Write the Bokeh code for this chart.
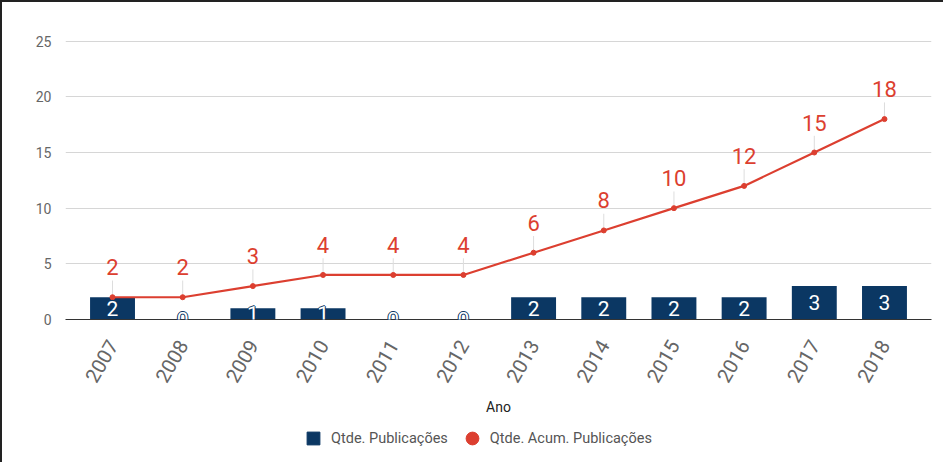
import math
from bokeh.plotting import figure
from bokeh.layouts import column
from bokeh.models import (ColumnDataSource, LabelSet, FixedTicker, Legend,
                          LegendItem, Range1d)
from bokeh.core.properties import value
from bokeh.embed import file_html
from bokeh.resources import INLINE

# ---- data ----
years = ["2007", "2008", "2009", "2010", "2011", "2012",
         "2013", "2014", "2015", "2016", "2017", "2018"]
pubs = [2, 0, 1, 1, 0, 0, 2, 2, 2, 2, 3, 3]
accum = [2, 2, 3, 4, 4, 4, 6, 8, 10, 12, 15, 18]
y_ticks = [0, 5, 10, 15, 20, 25]
series_names = ["Qtde. Publicações", "Qtde. Acum. Publicações"]

NAVY = "#0b3763"
RED = "#dc3f30"
FONT = "Roboto"

xs = list(range(len(years)))
src = ColumnDataSource(dict(
    x=xs,
    pubs=pubs,
    accum=accum,
    pubs_mid=[v / 2 for v in pubs],
    pubs_lbl=[str(v) for v in pubs],
    accum_lbl=[str(v) for v in accum],
    lead_top=[v + 1.5 for v in accum],
))

p = figure(frame_width=866, frame_height=280,
           x_range=Range1d(-0.67, len(years) - 1 + 0.67),
           y_range=Range1d(0, 25.15),
           output_backend="svg", toolbar_location=None,
           min_border_left=63, min_border_top=37, min_border_right=12,
           min_border_bottom=100,
           background_fill_color="white", border_fill_color="white",
           outline_line_color=None)

# grid
p.xgrid.grid_line_color = None
p.ygrid.grid_line_color = "#d6d6d6"
p.ygrid.grid_line_width = 1
p.ygrid.ticker = FixedTicker(ticks=y_ticks)

# y axis
p.yaxis.ticker = FixedTicker(ticks=y_ticks)
p.yaxis.axis_line_color = None
p.yaxis.major_tick_line_color = None
p.yaxis.minor_tick_line_color = None
p.yaxis.major_label_text_font = FONT
p.yaxis.major_label_text_font_size = "14px"
p.yaxis.major_label_text_color = "#666666"
p.yaxis.major_label_standoff = 8

# x axis
p.xaxis.ticker = FixedTicker(ticks=xs)
p.xaxis.major_label_overrides = {i: y for i, y in zip(xs, years)}
p.xaxis.major_label_orientation = math.pi / 3
p.xaxis.axis_line_color = "#333333"
p.xaxis.axis_line_width = 1
p.xaxis.major_tick_line_color = None
p.xaxis.minor_tick_line_color = None
p.xaxis.major_label_text_font = FONT
p.xaxis.major_label_text_font_size = "20px"
p.xaxis.major_label_text_color = "#666666"
p.xaxis.major_label_standoff = 16
p.xaxis.axis_label = "Ano"
p.xaxis.axis_label_text_font = FONT
p.xaxis.axis_label_text_font_size = "14px"
p.xaxis.axis_label_text_font_style = "normal"
p.xaxis.axis_label_text_color = "#222222"
p.xaxis.axis_label_standoff = 8

# bars
p.vbar(x="x", top="pubs", width=0.64, source=src,
       fill_color=NAVY, line_color=None)

# leader lines for accumulated labels
p.segment(x0="x", y0="accum", x1="x", y1="lead_top", source=src,
          line_color="#dddddd", line_width=1)

# line + points
p.line("x", "accum", source=src, line_color=RED, line_width=2.2)
p.scatter("x", "accum", source=src, size=5, fill_color=RED, line_color=RED)

# accumulated labels
p.add_layout(LabelSet(x="x", y="accum", text="accum_lbl", source=src,
                      y_offset=30, text_align="center", text_baseline="middle",
                      text_font=value(FONT), text_font_size="22px",
                      text_color=RED))

# bar labels with thin navy outline
for dx, dy in [(-1, 0), (1, 0), (0, -1), (0, 1)]:
    p.add_layout(LabelSet(x="x", y="pubs_mid", text="pubs_lbl", source=src,
                          x_offset=dx, y_offset=dy,
                          text_align="center", text_baseline="middle",
                          text_font=value(FONT), text_font_size="21px",
                          text_color=NAVY))
p.add_layout(LabelSet(x="x", y="pubs_mid", text="pubs_lbl", source=src,
                      text_align="center", text_baseline="middle",
                      text_font=value(FONT), text_font_size="21px",
                      text_color="white"))

# ---- legend strip ----
q = figure(width=941, height=43, x_range=Range1d(0, 1), y_range=Range1d(0, 1),
           output_backend="svg", toolbar_location=None,
           min_border=0, outline_line_color=None,
           background_fill_color="white", border_fill_color="white")
q.axis.visible = False
q.grid.grid_line_color = None
nan_src = ColumnDataSource(dict(x=[float("nan")], y=[float("nan")]))
r_sq = q.scatter("x", "y", source=nan_src, marker="square",
                 fill_color=NAVY, line_color=NAVY)
r_ci = q.scatter("x", "y", source=nan_src, marker="circle",
                 fill_color=RED, line_color=RED)
legend = Legend(items=[LegendItem(label=series_names[0], renderers=[r_sq]),
                       LegendItem(label=series_names[1], renderers=[r_ci])],
                orientation="horizontal", location=(232, 8),
                glyph_width=32, glyph_height=32, label_standoff=2, spacing=8,
                label_text_font=FONT, label_text_font_size="14.5px",
                label_text_color="#555555",
                border_line_color=None, background_fill_alpha=0,
                margin=0, padding=0)
q.add_layout(legend, "center")

layout = column(p, q, spacing=0,
                styles={"border-left": "2px solid #222",
                        "border-top": "2px solid #222"})

open("out.html", "w").write(file_html(layout, INLINE))
